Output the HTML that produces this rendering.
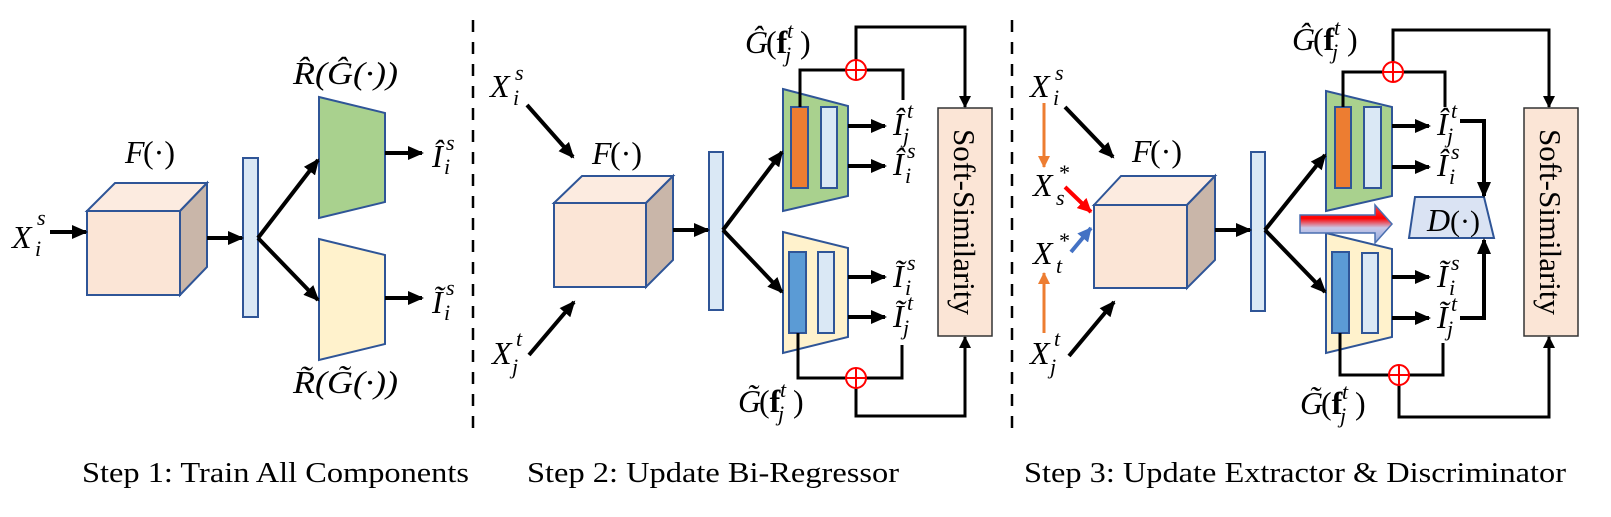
<!DOCTYPE html>
<html><head><meta charset="utf-8"><style>
html,body{margin:0;padding:0;background:#fff;}
svg{display:block;}
text{font-family:"Liberation Serif","DejaVu Serif",serif;fill:#000;}
.m{font-style:italic;font-size:32px;}
.s{font-style:italic;font-size:22px;}
.cap{font-size:29px;}
</style></head><body>
<svg width="1611" height="517" viewBox="0 0 1611 517" xmlns="http://www.w3.org/2000/svg">
<defs>
<marker id="a" markerUnits="userSpaceOnUse" markerWidth="16" markerHeight="14" refX="14" refY="7" orient="auto"><path d="M0,0 L16,7 L0,14 z" fill="#000"/></marker>
<marker id="b" markerUnits="userSpaceOnUse" markerWidth="12" markerHeight="12" refX="11" refY="6" orient="auto"><path d="M0,0 L12,6 L0,12 z" fill="#000"/></marker>
<marker id="o" markerUnits="userSpaceOnUse" markerWidth="12" markerHeight="12" refX="11" refY="6" orient="auto"><path d="M0,0 L12,6 L0,12 z" fill="#ed7d31"/></marker>
<marker id="r" markerUnits="userSpaceOnUse" markerWidth="14" markerHeight="14" refX="13" refY="7" orient="auto"><path d="M0,0 L14,7 L0,14 z" fill="#ff0000"/></marker>
<marker id="bl" markerUnits="userSpaceOnUse" markerWidth="14" markerHeight="14" refX="13" refY="7" orient="auto"><path d="M0,0 L14,7 L0,14 z" fill="#4472c4"/></marker>
<linearGradient id="g" x1="0" y1="0" x2="0" y2="1">
<stop offset="0" stop-color="#ff4040"/><stop offset="0.35" stop-color="#ff0000"/><stop offset="0.6" stop-color="#c8c8e8"/><stop offset="1" stop-color="#8fa9dc"/></linearGradient>
</defs>

<line x1="473" y1="20" x2="473" y2="432" stroke="#000" stroke-width="2.5" stroke-dasharray="12,10"/>
<line x1="1012" y1="20" x2="1012" y2="432" stroke="#000" stroke-width="2.5" stroke-dasharray="12,10"/>

<g stroke="#2f5597" stroke-width="2">
<rect x="87" y="211" width="93" height="84" fill="#fbe5d6"/>
<polygon points="87,211 115,183 207,183 180,211" fill="#fcebe0"/>
<polygon points="180,211 207,183 207,267 180,295" fill="#c9b6a9"/>
<rect x="243" y="158" width="15" height="159" fill="#dae8f5"/>
<polygon points="319,97 385,113 385,202 319,218" fill="#a9d18e"/>
<polygon points="319,239 385,255 385,344 319,360" fill="#fff2cc"/>
<rect x="554" y="203" width="92" height="84" fill="#fbe5d6"/>
<polygon points="554,203 582,176 673,176 646,203" fill="#fcebe0"/>
<polygon points="646,203 673,176 673,260 646,287" fill="#c9b6a9"/>
<rect x="709" y="152" width="14" height="158" fill="#dae8f5"/>
<polygon points="783,89 848,106 848,196 783,211" fill="#a9d18e"/>
<rect x="791" y="107" width="17" height="81" fill="#ed7d31"/>
<rect x="821" y="107" width="16" height="81" fill="#dae8f5"/>
<polygon points="783,232 848,248 848,337 783,353" fill="#fff2cc"/>
<rect x="789" y="252" width="17" height="81" fill="#5b9bd5"/>
<rect x="818" y="252" width="16" height="81" fill="#dae8f5"/>
<rect x="1094" y="205" width="93" height="83" fill="#fbe5d6"/>
<polygon points="1094,205 1121,176 1215,176 1187,205" fill="#fcebe0"/>
<polygon points="1187,205 1215,176 1215,260 1187,288" fill="#c9b6a9"/>
<rect x="1251" y="152" width="14" height="159" fill="#dae8f5"/>
<polygon points="1326,91 1392,107 1392,196 1326,211" fill="#a9d18e"/>
<rect x="1335" y="107" width="16" height="81" fill="#ed7d31"/>
<rect x="1364" y="107" width="17" height="81" fill="#dae8f5"/>
<polygon points="1326,233 1392,249 1392,337 1326,353" fill="#fff2cc"/>
<rect x="1332" y="252" width="17" height="81" fill="#5b9bd5"/>
<rect x="1362" y="253" width="16" height="80" fill="#dae8f5"/>
<polygon points="1415,197 1484,197 1494,238 1409,238" fill="#dae3f3"/>
<polygon points="1300,215 1375,215 1375,205 1392,224 1375,243 1375,233 1300,233" fill="url(#g)" stroke="#4a6fb0" stroke-width="1.5"/>
</g>

<rect x="938" y="108" width="54" height="228" fill="#fbe5d6" stroke="#333" stroke-width="1.5"/>
<rect x="1524" y="108" width="54" height="228" fill="#fbe5d6" stroke="#333" stroke-width="1.5"/>
<text transform="translate(954,222) rotate(90)" text-anchor="middle" font-size="31">Soft-Similarity</text>
<text transform="translate(1540,222) rotate(90)" text-anchor="middle" font-size="31">Soft-Similarity</text>

<g stroke="#000" stroke-width="4" fill="none" marker-end="url(#a)">
<line x1="50" y1="232" x2="86" y2="232"/>
<line x1="207" y1="238" x2="242" y2="238"/>
<line x1="258" y1="238" x2="318" y2="160"/>
<line x1="258" y1="238" x2="318" y2="300"/>
<line x1="385" y1="153" x2="422" y2="153"/>
<line x1="385" y1="298" x2="422" y2="298"/>
<line x1="527" y1="105" x2="573" y2="157"/>
<line x1="529" y1="355" x2="574" y2="302"/>
<line x1="673" y1="230" x2="708" y2="230"/>
<line x1="723" y1="230" x2="782" y2="152"/>
<line x1="723" y1="230" x2="782" y2="292"/>
<line x1="848" y1="126" x2="885" y2="126"/>
<line x1="848" y1="166" x2="885" y2="166"/>
<line x1="848" y1="277" x2="885" y2="277"/>
<line x1="848" y1="317" x2="885" y2="317"/>
<line x1="1065" y1="107" x2="1113" y2="157"/>
<line x1="1069" y1="356" x2="1114" y2="302"/>
<line x1="1215" y1="230" x2="1250" y2="230"/>
<line x1="1265" y1="230" x2="1325" y2="155"/>
<line x1="1265" y1="230" x2="1325" y2="292"/>
<line x1="1392" y1="126" x2="1429" y2="126"/>
<line x1="1392" y1="167" x2="1429" y2="167"/>
<line x1="1392" y1="277" x2="1429" y2="277"/>
<line x1="1392" y1="318" x2="1429" y2="318"/>
<polyline points="1460,121 1484,121 1484,196"/>
<polyline points="1460,318 1484,318 1484,240"/>
</g>

<line x1="1044" y1="103" x2="1044" y2="167" stroke="#ed7d31" stroke-width="3" marker-end="url(#o)"/>
<line x1="1044" y1="333" x2="1044" y2="273" stroke="#ed7d31" stroke-width="3" marker-end="url(#o)"/>
<line x1="1065" y1="187" x2="1091" y2="212" stroke="#ff0000" stroke-width="4" marker-end="url(#r)"/>
<line x1="1071" y1="252" x2="1091" y2="228" stroke="#4472c4" stroke-width="4" marker-end="url(#bl)"/>

<g stroke="#000" stroke-width="3" fill="none">
<polyline points="800,107 800,70 903,70 903,100"/>
<polyline points="856,70 856,27 965,27 965,107" marker-end="url(#b)"/>
<polyline points="798,333 798,378 902,378 902,345"/>
<polyline points="856,378 856,416 965,416 965,337" marker-end="url(#b)"/>
<polyline points="1343,107 1343,72 1445,72 1445,107"/>
<polyline points="1393,72 1393,30 1549,30 1549,107" marker-end="url(#b)"/>
<polyline points="1340,333 1340,375 1443,375 1443,343"/>
<polyline points="1399,375 1399,417 1549,417 1549,337" marker-end="url(#b)"/>
</g>
<g stroke="#ff0000" stroke-width="2" fill="#fff">
<circle cx="856" cy="70" r="10"/><circle cx="856" cy="378" r="10"/>
<circle cx="1393" cy="72" r="10"/><circle cx="1399" cy="375" r="10"/>
</g>
<g stroke="#ff0000" stroke-width="2">
<line x1="846" y1="70" x2="866" y2="70"/><line x1="856" y1="60" x2="856" y2="80"/>
<line x1="846" y1="378" x2="866" y2="378"/><line x1="856" y1="368" x2="856" y2="388"/>
<line x1="1383" y1="72" x2="1403" y2="72"/><line x1="1393" y1="62" x2="1393" y2="82"/>
<line x1="1389" y1="375" x2="1409" y2="375"/><line x1="1399" y1="365" x2="1399" y2="385"/>
</g>

<text class="m" x="12" y="248">X</text><text class="s" x="37" y="225">s</text><text class="s" x="35" y="256">i</text>
<text class="m" x="125" y="163">F</text><text x="143" y="163" font-size="32">(·)</text>
<text class="m" x="293" y="84" textLength="105" lengthAdjust="spacingAndGlyphs">R̂(Ĝ(·))</text>
<text class="m" x="293" y="393" textLength="105" lengthAdjust="spacingAndGlyphs">R̃(G̃(·))</text>
<text class="m" x="432" y="167">Î</text><text class="s" x="446" y="150">s</text><text class="s" x="444" y="174">i</text>
<text class="m" x="432" y="313">Ĩ</text><text class="s" x="446" y="295">s</text><text class="s" x="444" y="320">i</text>

<text class="m" x="490" y="97">X</text><text class="s" x="515" y="80">s</text><text class="s" x="513" y="105">i</text>
<text class="m" x="492" y="364">X</text><text class="s" x="516" y="346">t</text><text class="s" x="512" y="374">j</text>
<text class="m" x="592" y="164">F</text><text x="610" y="164" font-size="32">(·)</text>
<text class="m" x="745" y="53">Ĝ</text><text x="766" y="53" font-size="32">(<tspan font-weight="bold">f</tspan></text><text class="s" x="787" y="38">t</text><text class="s" x="785" y="62">j</text><text x="800" y="53" font-size="32">)</text>
<text class="m" x="738" y="412">G̃</text><text x="759" y="412" font-size="32">(<tspan font-weight="bold">f</tspan></text><text class="s" x="780" y="397">t</text><text class="s" x="778" y="421">j</text><text x="793" y="412" font-size="32">)</text>
<text class="m" x="893" y="135">Î</text><text class="s" x="907" y="118">t</text><text class="s" x="903" y="143">j</text>
<text class="m" x="893" y="175">Î</text><text class="s" x="907" y="158">s</text><text class="s" x="905" y="183">i</text>
<text class="m" x="893" y="287">Ĩ</text><text class="s" x="907" y="270">s</text><text class="s" x="905" y="295">i</text>
<text class="m" x="893" y="327">Ĩ</text><text class="s" x="907" y="310">t</text><text class="s" x="903" y="335">j</text>

<text class="m" x="1030" y="97">X</text><text class="s" x="1055" y="80">s</text><text class="s" x="1053" y="105">i</text>
<text class="m" x="1033" y="196">X</text><text class="s" x="1058" y="180">*</text><text class="s" x="1056" y="205">s</text>
<text class="m" x="1033" y="264">X</text><text class="s" x="1058" y="248">*</text><text class="s" x="1056" y="273">t</text>
<text class="m" x="1030" y="364">X</text><text class="s" x="1054" y="346">t</text><text class="s" x="1050" y="374">j</text>
<text class="m" x="1132" y="162">F</text><text x="1150" y="162" font-size="32">(·)</text>
<text class="m" x="1292" y="50">Ĝ</text><text x="1313" y="50" font-size="32">(<tspan font-weight="bold">f</tspan></text><text class="s" x="1334" y="35">t</text><text class="s" x="1332" y="59">j</text><text x="1347" y="50" font-size="32">)</text>
<text class="m" x="1300" y="414">G̃</text><text x="1321" y="414" font-size="32">(<tspan font-weight="bold">f</tspan></text><text class="s" x="1342" y="399">t</text><text class="s" x="1340" y="423">j</text><text x="1355" y="414" font-size="32">)</text>
<text class="m" x="1437" y="135">Î</text><text class="s" x="1451" y="118">t</text><text class="s" x="1447" y="143">j</text>
<text class="m" x="1437" y="176">Î</text><text class="s" x="1451" y="159">s</text><text class="s" x="1449" y="184">i</text>
<text class="m" x="1437" y="287">Ĩ</text><text class="s" x="1451" y="270">s</text><text class="s" x="1449" y="295">i</text>
<text class="m" x="1437" y="328">Ĩ</text><text class="s" x="1451" y="311">t</text><text class="s" x="1447" y="336">j</text>
<text class="m" x="1427" y="231">D</text><text x="1450" y="231" font-size="30">(·)</text>

<text class="cap" x="82" y="482" textLength="387" lengthAdjust="spacingAndGlyphs">Step 1: Train All Components</text>
<text class="cap" x="527" y="482" textLength="372" lengthAdjust="spacingAndGlyphs">Step 2: Update Bi-Regressor</text>
<text class="cap" x="1024" y="482" textLength="542" lengthAdjust="spacingAndGlyphs">Step 3: Update Extractor &amp; Discriminator</text>
</svg>
</body></html>
